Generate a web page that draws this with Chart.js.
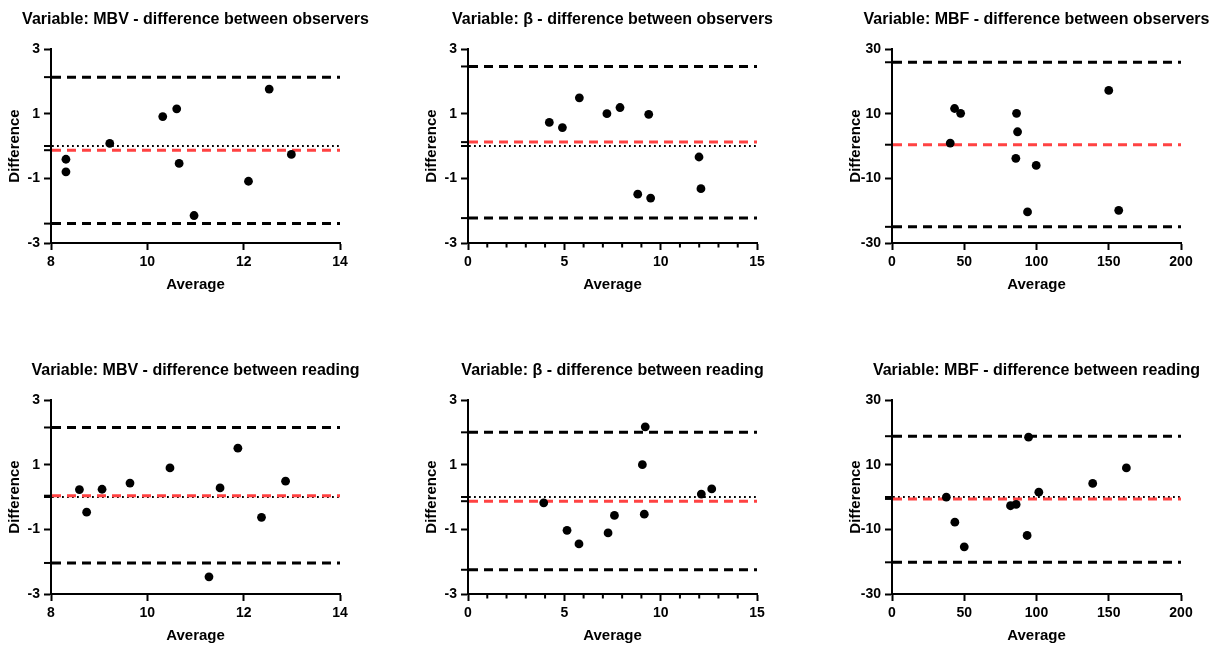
<!DOCTYPE html>
<html>
<head>
<meta charset="utf-8">
<script src="https://cdn.jsdelivr.net/npm/chart.js@4.4.1/dist/chart.umd.min.js"></script>
<style>
  body { margin: 0; background: #fff; overflow: hidden; }
  #page { position: relative; width: 1220px; height: 646px; }
  canvas { position: absolute; }
</style>
</head>
<body>
<div id="page">
  <canvas id="c1" width="375" height="305" style="left:0px;top:0px"></canvas>
  <canvas id="c2" width="375" height="305" style="left:417px;top:0px"></canvas>
  <canvas id="c3" width="375" height="305" style="left:841px;top:0px"></canvas>
  <canvas id="c4" width="375" height="305" style="left:0px;top:351px"></canvas>
  <canvas id="c5" width="375" height="305" style="left:417px;top:351px"></canvas>
  <canvas id="c6" width="375" height="305" style="left:841px;top:351px"></canvas>
</div>
<script>
// tick values
var mbvXTicks = [8, 10, 12, 14];
var betaXTicks = [0, 5, 10, 15];
var mbfXTicks = [0, 50, 100, 150, 200];
var smallYTicks = [-3, -1, 1, 3];
var mbfYTicks = [-30, -10, 10, 30];

// MBV - observers
var mbvObsAvg  = [8.31, 8.31, 9.22, 10.32, 10.61, 10.66, 10.97, 12.10, 12.53, 12.99];
var mbvObsDiff = [-0.41, -0.80, 0.08, 0.91, 1.15, -0.54, -2.15, -1.09, 1.76, -0.26];
var mbvObsBias = -0.13;
var mbvObsLoA  = [2.13, -2.40];

// beta - observers
var betaObsAvg  = [4.22, 4.90, 5.78, 7.21, 7.89, 9.38, 8.81, 9.48, 11.99, 12.09];
var betaObsDiff = [0.73, 0.57, 1.49, 1.00, 1.19, 0.98, -1.49, -1.61, -0.34, -1.32];
var betaObsBias = 0.12;
var betaObsLoA  = [2.46, -2.23];

// MBF - observers
var mbfObsAvg  = [43.3, 47.5, 40.3, 86.2, 86.9, 85.7, 99.8, 93.8, 150.0, 156.9];
var mbfObsDiff = [11.6, 10.1, 0.9, 10.1, 4.4, -3.8, -6.0, -20.4, 17.2, -19.9];
var mbfObsBias = 0.4;
var mbfObsLoA  = [25.9, -25.0];

// MBV - reading
var mbvReadAvg  = [8.59, 8.74, 9.06, 9.64, 10.47, 11.51, 11.88, 12.37, 12.87, 11.28];
var mbvReadDiff = [0.23, -0.47, 0.24, 0.43, 0.90, 0.28, 1.51, -0.63, 0.49, -2.47];
var mbvReadBias = 0.04;
var mbvReadLoA  = [2.15, -2.04];

// beta - reading
var betaReadAvg  = [3.93, 5.14, 5.76, 7.27, 7.60, 9.05, 9.20, 9.15, 12.11, 12.65];
var betaReadDiff = [-0.18, -1.03, -1.45, -1.11, -0.57, 1.00, 2.17, -0.53, 0.09, 0.25];
var betaReadBias = -0.13;
var betaReadLoA  = [2.00, -2.25];

// MBF - reading
var mbfReadAvg  = [37.6, 43.5, 50.0, 82.0, 85.9, 93.5, 94.5, 101.6, 138.9, 162.2];
var mbfReadDiff = [-0.05, -7.8, -15.4, -2.7, -2.3, -11.9, 18.5, 1.5, 4.2, 9.0];
var mbfReadBias = -0.6;
var mbfReadLoA  = [18.8, -20.2];

var FONT = "'Liberation Sans', Arial, sans-serif";
Chart.defaults.font.family = FONT;
Chart.defaults.font.weight = 'bold';
Chart.defaults.color = '#000';

// bias / limits of agreement / zero line, short minor x ticks and the panel title
var refLines = {
  id: 'refLines',
  beforeDatasetsDraw: function(chart, args, opts) {
    var ctx = chart.ctx, a = chart.chartArea, y = chart.scales.y, x = chart.scales.x;
    var lines = [];
    if (opts.zero) lines.push({ v: 0, color: '#000', width: 1.8, dash: [1.8, 3.2] });
    lines.push({ v: opts.loa[0], color: '#000', width: 3, dash: [9, 6] });
    lines.push({ v: opts.loa[1], color: '#000', width: 3, dash: [9, 6] });
    lines.push({ v: opts.bias, color: '#ff4242', width: 3, dash: [9, 6] });
    ctx.save();
    lines.forEach(function(l) {
      var py = y.getPixelForValue(l.v);
      ctx.setLineDash([]);
      ctx.strokeStyle = '#000';
      ctx.lineWidth = 2;
      ctx.beginPath();
      ctx.moveTo(a.left - 7, py);
      ctx.lineTo(a.left, py);
      ctx.stroke();
      ctx.setLineDash(l.dash);
      ctx.strokeStyle = l.color;
      ctx.lineWidth = l.width;
      ctx.beginPath();
      ctx.moveTo(a.left + 1, py);
      ctx.lineTo(a.right, py);
      ctx.stroke();
    });
    ctx.setLineDash([]);
    ctx.strokeStyle = '#000';
    ctx.lineWidth = 2;
    x.ticks.forEach(function(t) {
      if (opts.major.indexOf(t.value) >= 0) return;
      var px = x.getPixelForValue(t.value);
      ctx.beginPath();
      ctx.moveTo(px, a.bottom);
      ctx.lineTo(px, a.bottom + 4.5);
      ctx.stroke();
    });
    ctx.restore();
  },
  afterDraw: function(chart, args, opts) {
    var ctx = chart.ctx, a = chart.chartArea;
    ctx.save();
    ctx.font = 'bold 16px ' + FONT;
    ctx.fillStyle = '#000';
    ctx.textAlign = 'center';
    ctx.textBaseline = 'alphabetic';
    ctx.fillText(opts.title, (a.left + a.right) / 2, 23.5);
    ctx.restore();
  }
};

function makePanel(id, title, avg, diff, bias, loa, xTicks, yTicks, minor, zero) {
  var pts = avg.map(function(v, i) { return { x: v, y: diff[i] }; });
  var xStep = minor ? 1 : xTicks[1] - xTicks[0];
  return new Chart(document.getElementById(id), {
    type: 'scatter',
    data: {
      datasets: [{
        data: pts,
        backgroundColor: '#000',
        borderWidth: 0,
        pointRadius: 4.4,
        pointHoverRadius: 4.4
      }]
    },
    options: {
      responsive: false,
      animation: false,
      events: [],
      layout: { padding: { left: 0, right: 35, top: 49, bottom: 2 } },
      plugins: {
        legend: { display: false },
        tooltip: { enabled: false },
        title: { display: false },
        refLines: { bias: bias, loa: loa, major: xTicks, title: title, zero: zero }
      },
      scales: {
        x: {
          type: 'linear',
          min: xTicks[0],
          max: xTicks[xTicks.length - 1],
          afterFit: function(s) { s.height = 60; },
          border: { display: true, color: '#000', width: 2 },
          grid: {
            drawOnChartArea: false, drawTicks: true, tickLength: 7, tickWidth: 2,
            tickColor: function(c) { return xTicks.indexOf(c.tick.value) >= 0 ? '#000' : 'rgba(0,0,0,0)'; }
          },
          ticks: {
            stepSize: xStep,
            autoSkip: false,
            maxRotation: 0,
            padding: 4,
            font: { size: 14, weight: 'bold' },
            callback: function(v) { return xTicks.indexOf(v) >= 0 ? String(v) : ''; }
          },
          title: { display: true, text: 'Average', font: { size: 15, weight: 'bold' }, padding: { top: 0, bottom: 9 } }
        },
        y: {
          type: 'linear',
          min: yTicks[0],
          max: yTicks[yTicks.length - 1],
          afterFit: function(s) { s.width = 51; },
          border: { display: true, color: '#000', width: 2 },
          grid: { drawOnChartArea: false, drawTicks: true, tickLength: 7, tickWidth: 2, tickColor: '#000' },
          ticks: {
            stepSize: yTicks[1] - yTicks[0],
            autoSkip: false,
            padding: 4,
            font: { size: 14, weight: 'bold' }
          },
          title: { display: true, text: 'Difference', font: { size: 15, weight: 'bold' }, padding: { top: 6, bottom: 0 } }
        }
      }
    },
    plugins: [refLines]
  });
}

makePanel('c1', 'Variable: MBV - difference between observers', mbvObsAvg, mbvObsDiff, mbvObsBias, mbvObsLoA, mbvXTicks, smallYTicks, false, true);
makePanel('c2', 'Variable: \u03b2 - difference between observers', betaObsAvg, betaObsDiff, betaObsBias, betaObsLoA, betaXTicks, smallYTicks, true, true);
makePanel('c3', 'Variable: MBF - difference between observers', mbfObsAvg, mbfObsDiff, mbfObsBias, mbfObsLoA, mbfXTicks, mbfYTicks, false, false);
makePanel('c4', 'Variable: MBV - difference between reading', mbvReadAvg, mbvReadDiff, mbvReadBias, mbvReadLoA, mbvXTicks, smallYTicks, false, true);
makePanel('c5', 'Variable: \u03b2 - difference between reading', betaReadAvg, betaReadDiff, betaReadBias, betaReadLoA, betaXTicks, smallYTicks, true, true);
makePanel('c6', 'Variable: MBF - difference between reading', mbfReadAvg, mbfReadDiff, mbfReadBias, mbfReadLoA, mbfXTicks, mbfYTicks, false, true);
</script>
</body>
</html>
